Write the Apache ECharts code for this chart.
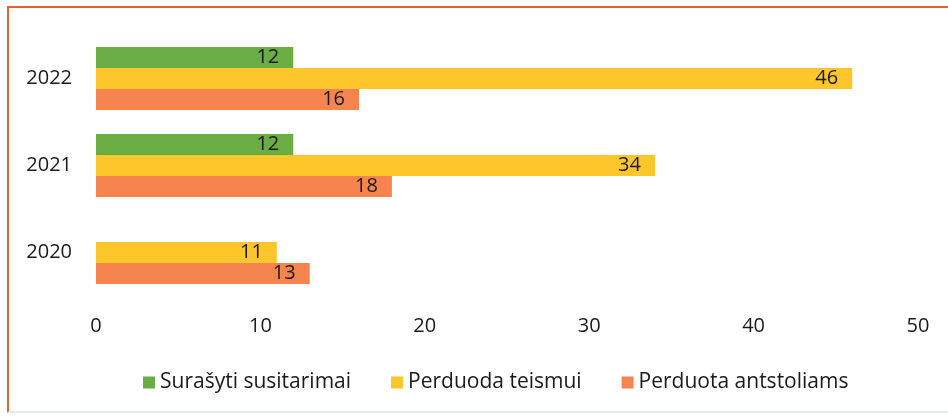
<!DOCTYPE html>
<html>
<head>
<meta charset="utf-8">
<script src="https://cdn.jsdelivr.net/npm/echarts@6/dist/echarts.min.js"></script>
<style>
  html, body { margin: 0; padding: 0; background: #fff; }
  #frame {
    position: absolute; left: 7px; top: 6px; width: 960px; height: 403px;
    border-left: 2px solid #e8602c; border-top: 2px solid #e8602c;
    border-bottom: 2px solid #e3ebef;
  }
  #chart { position: absolute; left: 0; top: 0; width: 948px; height: 416px; }
</style>
</head>
<body>
<div id="frame"></div>
<div id="chart"></div>
<script>
// years, bottom to top
var years = ['2020', '2021', '2022']
var surasyti = [null, 12, 12]   // Surašyti susitarimai
var teismui = [11, 34, 46]      // Perduoda teismui
var antstoliams = [13, 18, 16]  // Perduota antstoliams
var seriesNames = ['Surašyti susitarimai', 'Perduoda teismui', 'Perduota antstoliams']
var colors = ['#6aad45', '#fdc62a', '#f5844e']

var font = '"Open Sans", sans-serif'
var chart = echarts.init(document.getElementById('chart'))

function bar(name, data, color) {
  return {
    name: name,
    type: 'bar',
    data: data,
    barWidth: 21,
    barGap: '0%',
    itemStyle: { color: color },
    label: {
      show: true,
      position: 'insideRight',
      distance: 14,
      color: '#1a1a1a',
      fontSize: 20,
      fontFamily: font
    }
  }
}

chart.setOption({
  backgroundColor: 'transparent',
  animation: false,
  color: colors,
  grid: { left: 96, right: 30, top: 35, bottom: 120 },
  legend: {
    top: 367,
    left: 138,
    itemWidth: 12,
    itemHeight: 12,
    itemGap: 40,
    icon: 'rect',
    textStyle: { fontSize: 21, color: '#1a1a1a', fontFamily: font },
    data: seriesNames
  },
  xAxis: {
    type: 'value',
    min: 0,
    max: 50,
    interval: 10,
    axisLine: { show: false },
    axisTick: { show: false },
    splitLine: { show: false },
    axisLabel: { fontSize: 20, color: '#1a1a1a', fontFamily: font, margin: 20 }
  },
  yAxis: {
    type: 'category',
    data: years,
    axisLine: { show: false },
    axisTick: { show: false },
    axisLabel: { fontSize: 20, color: '#1a1a1a', fontFamily: font, margin: 24 }
  },
  series: [
    bar(seriesNames[0], surasyti, colors[0]),
    bar(seriesNames[1], teismui, colors[1]),
    bar(seriesNames[2], antstoliams, colors[2])
  ]
})
</script>
</body>
</html>
